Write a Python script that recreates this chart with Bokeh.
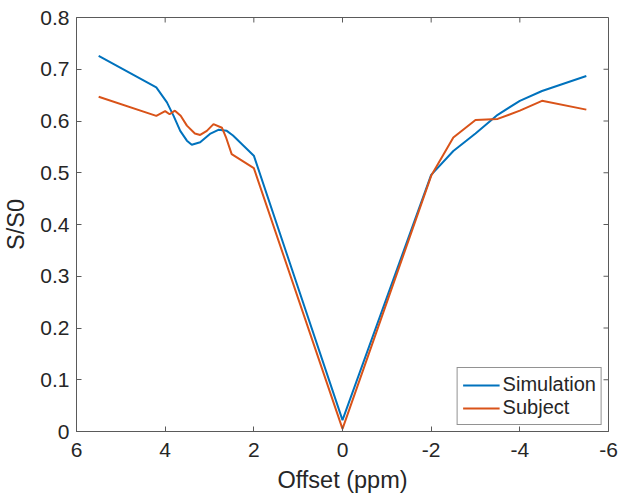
from bokeh.plotting import figure
from bokeh.models import Range1d, FixedTicker, Legend, LegendItem
from bokeh.embed import file_html
from bokeh.resources import INLINE

# Data
sim_x = [5.5, 4.2, 3.96, 3.81, 3.66, 3.51, 3.40, 3.21, 2.99, 2.80, 2.61, 2.47, 2.0,
         0.0, -2.0, -2.5, -3.0, -3.5, -4.0, -4.5, -5.5]
sim_y = [0.726, 0.665, 0.636, 0.610, 0.581, 0.562, 0.554, 0.559, 0.575, 0.583, 0.581, 0.572, 0.533,
         0.022, 0.496, 0.542, 0.576, 0.612, 0.639, 0.658, 0.687]

sub_x = [5.5, 4.2, 4.0, 3.9, 3.78, 3.65, 3.51, 3.33, 3.21, 3.06, 2.91, 2.72, 2.63, 2.50, 2.0,
         0.0, -2.0, -2.5, -3.0, -3.5, -4.0, -4.5, -5.5]
sub_y = [0.647, 0.610, 0.619, 0.613, 0.620, 0.610, 0.591, 0.576, 0.573, 0.581, 0.594, 0.587, 0.569, 0.536, 0.509,
         0.005, 0.494, 0.568, 0.602, 0.604, 0.620, 0.639, 0.622]

x_ticks = [6, 4, 2, 0, -2, -4, -6]
y_ticks = [0, 0.1, 0.2, 0.3, 0.4, 0.5, 0.6, 0.7, 0.8]
y_tick_labels = ["0", "0.1", "0.2", "0.3", "0.4", "0.5", "0.6", "0.7", "0.8"]
x_tick_labels = ["6", "4", "2", "0", "-2", "-4", "-6"]

FONT = "Liberation Sans"
TXT = "#262626"
AX = "#5a5a5a"

W, H = 619, 495
BL, BR, BT, BB = 76, 11, 17, 64
TICK = 5

p = figure(width=W, height=H, output_backend="svg", toolbar_location=None,
           x_range=Range1d(6, -6), y_range=Range1d(0, 0.8),
           min_border_left=BL, min_border_right=BR, min_border_top=BT, min_border_bottom=BB)
p.xgrid.visible = False
p.ygrid.visible = False
p.outline_line_color = AX
p.outline_line_width = 1
p.background_fill_color = "white"

p.xaxis.ticker = FixedTicker(ticks=x_ticks)
p.yaxis.ticker = FixedTicker(ticks=y_ticks)
p.xaxis.major_label_overrides = {t: l for t, l in zip(x_ticks, x_tick_labels)}
p.yaxis.major_label_overrides = {t: l for t, l in zip(y_ticks, y_tick_labels)}

for ax in (p.xaxis[0], p.yaxis[0]):
    ax.axis_line_color = AX
    ax.major_tick_line_color = AX
    ax.major_tick_in = TICK
    ax.major_tick_out = 0
    ax.minor_tick_line_color = None
    ax.major_label_text_font = FONT
    ax.major_label_text_font_size = "21px"
    ax.major_label_text_color = TXT
    ax.axis_label_text_font = FONT
    ax.axis_label_text_font_size = "23.5px"
    ax.axis_label_text_font_style = "normal"
    ax.axis_label_text_color = TXT

p.xaxis.axis_label = "Offset (ppm)"
p.yaxis.axis_label = "S/S0"
p.xaxis.major_label_standoff = 11
p.yaxis.major_label_standoff = 7
p.xaxis.axis_label_standoff = 7
p.yaxis.axis_label_standoff = 8

# inward ticks on the top and right edges of the box (MATLAB "box on")
x_start, x_end = p.x_range.start, p.x_range.end
y_start, y_end = p.y_range.start, p.y_range.end
tick_dx = TICK * abs(x_end - x_start) / (W - BL - BR)
tick_dy = TICK * abs(y_end - y_start) / (H - BT - BB)
p.segment(x0=x_ticks, y0=[y_end] * len(x_ticks), x1=x_ticks, y1=[y_end - tick_dy] * len(x_ticks),
          line_color=AX, line_width=1)
p.segment(x0=[x_end] * len(y_ticks), y0=y_ticks, x1=[x_end + tick_dx] * len(y_ticks), y1=y_ticks,
          line_color=AX, line_width=1)

r1 = p.line(sim_x, sim_y, line_color="#0072BD", line_width=2)
r2 = p.line(sub_x, sub_y, line_color="#D95319", line_width=2)

legend = Legend(items=[LegendItem(label="Simulation", renderers=[r1]),
                       LegendItem(label="Subject", renderers=[r2])],
                location="bottom_right")
legend.margin = 6
legend.padding = 5
legend.spacing = 0
legend.label_text_font = FONT
legend.label_text_font_size = "20px"
legend.label_text_color = TXT
legend.label_height = 22
legend.glyph_height = 22
legend.glyph_width = 37
legend.label_standoff = 3
legend.border_line_color = TXT
legend.border_line_width = 1
legend.background_fill_color = "white"
legend.background_fill_alpha = 1
p.add_layout(legend, "center")

open("out.html", "w").write(file_html(p, INLINE))
